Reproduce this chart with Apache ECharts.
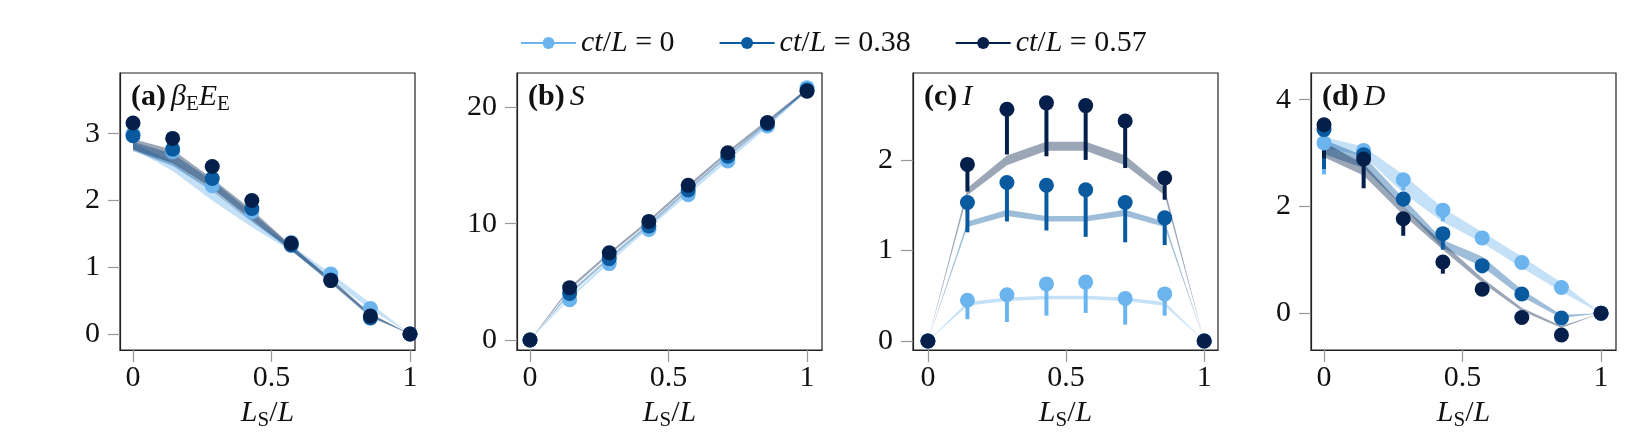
<!DOCTYPE html>
<html>
<head>
<meta charset="utf-8">
<script src="https://cdn.jsdelivr.net/npm/echarts@6/dist/echarts.min.js"></script>
<style>
html, body { margin: 0; padding: 0; background: #fff; }
#chart { width: 1643px; height: 443px; }
</style>
</head>
<body>
<div id="chart"></div>
<script>
// x positions L_S/L
var xs = [0, 0.143, 0.286, 0.429, 0.571, 0.714, 0.857, 1];
var legendNames = ['ct/L = 0', 'ct/L = 0.38', 'ct/L = 0.57'];
var legendValues = ['0', '0.38', '0.57'];
var colors = ['#6cb4ee', '#0a5aa0', '#04204a'];

// (a) beta_E E_E
var aPts0 = [3.0, 2.73, 2.22, 1.83, 1.37, 0.90, 0.38, 0];
var aPts1 = [2.97, 2.77, 2.33, 1.88, 1.33, 0.81, 0.24, 0];
var aPts2 = [3.16, 2.93, 2.51, 2.0, 1.36, 0.80, 0.27, 0];
var aLo0 = [2.78, 2.44, 2.0, 1.6, 1.24, 0.81, 0.37, 0];
var aHi0 = [2.86, 2.58, 2.14, 1.7, 1.33, 0.91, 0.46, 0];
var aLo1 = [2.74, 2.52, 2.14, 1.68, 1.25, 0.76, 0.25, 0];
var aHi1 = [2.88, 2.7, 2.3, 1.82, 1.32, 0.82, 0.3, 0];
var aLo2 = [2.76, 2.56, 2.18, 1.71, 1.26, 0.77, 0.26, 0];
var aHi2 = [2.92, 2.76, 2.33, 1.86, 1.33, 0.83, 0.31, 0];

// (b) S
var bPts0 = [0, 3.46, 6.57, 9.5, 12.5, 15.4, 18.4, 21.7];
var bPts1 = [0, 4.0, 7.0, 9.8, 12.9, 15.8, 18.6, 21.5];
var bPts2 = [0, 4.5, 7.5, 10.2, 13.3, 16.1, 18.7, 21.4];
var bLo0 = [0, 3.5, 6.6, 9.6, 12.5, 15.4, 18.3, 21.4];
var bHi0 = [0, 3.75, 6.85, 9.85, 12.75, 15.65, 18.55, 21.65];
var bLo1 = [0, 3.9, 6.9, 9.8, 12.8, 15.7, 18.5, 21.4];
var bHi1 = [0, 4.15, 7.15, 10.05, 13.05, 15.95, 18.75, 21.65];
var bLo2 = [0, 4.3, 7.3, 10.1, 13.1, 16.0, 18.7, 21.4];
var bHi2 = [0, 4.55, 7.55, 10.35, 13.35, 16.25, 18.95, 21.65];

// (c) I
var cPts0 = [0, 0.45, 0.51, 0.63, 0.65, 0.47, 0.52, 0];
var cErr0 = [0, 0.24, 0.21, 0.28, 0.31, 0.18, 0.28, 0];
var cPts1 = [0, 1.53, 1.75, 1.72, 1.67, 1.53, 1.36, 0];
var cErr1 = [0, 1.2, 1.32, 1.22, 1.15, 1.09, 1.06, 0];
var cPts2 = [0, 1.95, 2.56, 2.63, 2.6, 2.43, 1.8, 0];
var cErr2 = [0, 1.65, 2.06, 2.04, 2.0, 1.91, 1.56, 0];
var cLo0 = [0, 0.39, 0.44, 0.46, 0.46, 0.44, 0.39, 0];
var cHi0 = [0, 0.43, 0.48, 0.5, 0.5, 0.48, 0.43, 0];
var cLo1 = [0, 1.26, 1.38, 1.32, 1.32, 1.38, 1.26, 0];
var cHi1 = [0, 1.32, 1.45, 1.38, 1.38, 1.45, 1.32, 0];
var cLo2 = [0, 1.61, 1.94, 2.1, 2.1, 1.94, 1.61, 0];
var cHi2 = [0, 1.69, 2.05, 2.2, 2.2, 2.05, 1.69, 0];

// (d) D
var dPts0 = [3.19, 3.05, 2.5, 1.93, 1.41, 0.95, 0.48, 0];
var dErr0 = [2.6, 3.0, 2.3, 1.72, 1.41, 0.95, 0.48, 0];
var dPts1 = [3.44, 2.97, 2.14, 1.49, 0.89, 0.36, -0.09, 0];
var dErr1 = [2.7, 2.9, 2.0, 1.19, 0.75, 0.3, -0.09, 0];
var dPts2 = [3.53, 2.89, 1.77, 0.96, 0.45, -0.08, -0.41, 0];
var dErr2 = [2.9, 2.34, 1.45, 0.74, 0.4, -0.08, -0.41, 0];
var dLo0 = [3.1, 2.95, 2.25, 1.71, 1.32, 0.85, 0.4, 0];
var dHi0 = [3.3, 3.12, 2.6, 1.97, 1.52, 1.06, 0.57, 0];
var dLo1 = [2.98, 2.72, 1.99, 1.22, 0.87, 0.31, -0.09, 0];
var dHi1 = [3.25, 2.95, 2.16, 1.37, 1.06, 0.44, -0.03, 0];
var dLo2 = [2.92, 2.58, 1.84, 1.19, 0.57, 0.04, -0.28, 0];
var dHi2 = [3.2, 2.8, 2.0, 1.32, 0.66, 0.1, -0.24, 0];

var xTicks = [0, 0.5, 1];
var yTicks = [[0, 1, 2, 3], [0, 10, 20], [0, 1, 2], [0, 2, 4]];
var yRanges = [[-0.24, 3.91], [-0.86, 22.96], [-0.1, 2.96], [-0.69, 4.5]];
var xRanges = [[-0.047, 1.018], [-0.047, 1.054], [-0.054, 1.05], [-0.047, 1.054]];

var panels = [
  { title: '{b|(a)} {i|β}{s|E}{i|E}{s|E}', pts: [aPts0, aPts1, aPts2], err: null, lo: [aLo0, aLo1, aLo2], hi: [aHi0, aHi1, aHi2] },
  { title: '{b|(b)} {i|S}', pts: [bPts0, bPts1, bPts2], err: null, lo: [bLo0, bLo1, bLo2], hi: [bHi0, bHi1, bHi2] },
  { title: '{b|(c)} {i|I}', pts: [cPts0, cPts1, cPts2], err: [cErr0, cErr1, cErr2], lo: [cLo0, cLo1, cLo2], hi: [cHi0, cHi1, cHi2] },
  { title: '{b|(d)} {i|D}', pts: [dPts0, dPts1, dPts2], err: [dErr0, dErr1, dErr2], lo: [dLo0, dLo1, dLo2], hi: [dHi0, dHi1, dHi2] }
];

var F = '"Liberation Serif", "DejaVu Serif", serif';
var ink = '#111';
var FS = 30;
var rich = {
  b: { fontFamily: F, fontSize: FS, fontWeight: 'bold', color: ink, lineHeight: 36 },
  i: { fontFamily: F, fontSize: FS, fontStyle: 'italic', fontWeight: 'normal', color: ink, lineHeight: 36 },
  r: { fontFamily: F, fontSize: FS, fontWeight: 'normal', color: ink, lineHeight: 36 },
  s: { fontFamily: F, fontSize: 21, fontWeight: 'normal', color: ink, lineHeight: 21, verticalAlign: 'bottom' }
};

var gridLefts = [120, 517, 913, 1311];
var gridWidths = [295, 305, 305, 305];

var grids = [], xAxes = [], yAxes = [], titles = [], series = [];

panels.forEach(function(p, k) {
  grids.push({ left: gridLefts[k], top: 73, width: gridWidths[k], height: 277,
    show: true, borderColor: '#222', borderWidth: 1.2, backgroundColor: 'transparent' });
  xAxes.push({
    type: 'value', gridIndex: k, min: xRanges[k][0], max: xRanges[k][1],
    name: '{i|L}{s|S}{r|/}{i|L}', nameLocation: 'middle', nameGap: 40,
    nameTextStyle: { rich: rich },
    axisLine: { show: true, onZero: false, lineStyle: { color: '#222', width: 1.2 } },
    axisTick: { show: true, length: 12, lineStyle: { color: '#999', width: 1.2 }, customValues: xTicks },
    axisLabel: { margin: 13, fontFamily: F, fontSize: FS, color: ink, customValues: xTicks },
    splitLine: { show: false }
  });
  yAxes.push({
    type: 'value', gridIndex: k, min: yRanges[k][0], max: yRanges[k][1],
    axisLine: { show: true, onZero: false, lineStyle: { color: '#222', width: 1.2 } },
    axisTick: { show: true, length: 12, lineStyle: { color: '#999', width: 1.2 }, customValues: yTicks[k] },
    axisLabel: { margin: 20, fontFamily: F, fontSize: FS, color: ink, customValues: yTicks[k] },
    splitLine: { show: false }
  });
  titles.push({ left: gridLefts[k] + 6, top: 74, text: p.title, textStyle: { rich: rich } });

  // theory bands: one polygon between lower and upper edge
  for (var c = 0; c < 3; c++) {
    (function(c) {
      var lo = p.lo[c], hi = p.hi[c];
      series.push({
        type: 'custom', xAxisIndex: k, yAxisIndex: k, silent: true,
        data: xs.map(function(x, i) { return [x, lo[i], hi[i]]; }),
        encode: { x: 0, y: [1, 2] },
        renderItem: function(params, api) {
          if (params.dataIndex !== 0) return null;
          var top = [], bot = [];
          for (var i = 0; i < xs.length; i++) {
            top.push(api.coord([xs[i], hi[i]]));
            bot.unshift(api.coord([xs[i], lo[i]]));
          }
          return { type: 'polygon', shape: { points: top.concat(bot) },
            style: { fill: colors[c], opacity: 0.4 } };
        }
      });
    })(c);
  }

  // error bars and markers
  for (var c2 = 0; c2 < 3; c2++) {
    (function(c) {
      var pts = p.pts[c];
      if (p.err) {
        var err = p.err[c];
        series.push({
          type: 'custom', xAxisIndex: k, yAxisIndex: k, silent: true,
          data: xs.map(function(x, i) { return [x, pts[i], err[i]]; }),
          encode: { x: 0, y: [1, 2] },
          renderItem: function(params, api) {
            var a = api.coord([api.value(0), api.value(1)]);
            var b = api.coord([api.value(0), api.value(2)]);
            return { type: 'line', shape: { x1: a[0], y1: a[1], x2: b[0], y2: b[1] },
              style: { stroke: colors[c], lineWidth: 4 } };
          }
        });
      }
      series.push({
        type: 'scatter', xAxisIndex: k, yAxisIndex: k, silent: true,
        data: xs.map(function(x, i) { return [x, pts[i]]; }),
        symbol: 'circle', symbolSize: 15,
        itemStyle: { color: colors[c], opacity: 1 }
      });
    })(c2);
  }
});

// legend-only series
legendNames.forEach(function(n, c) {
  series.push({
    type: 'line', name: n, xAxisIndex: 0, yAxisIndex: 0, data: [],
    symbol: 'circle', symbolSize: 12,
    lineStyle: { color: colors[c], width: 2.5 }, itemStyle: { color: colors[c] }
  });
});

var chart = echarts.init(document.getElementById('chart'), null, { renderer: 'canvas' });
chart.setOption({
  animation: false,
  backgroundColor: '#fff',
  title: titles,
  legend: {
    data: legendNames, left: 515, top: 23, itemGap: 44, itemWidth: 55, itemHeight: 15,
    selectedMode: false,
    formatter: function(name) {
      var v = legendValues[legendNames.indexOf(name)];
      return '{i|ct}{r|/}{i|L}{r| = ' + v + '}';
    },
    textStyle: { rich: rich }
  },
  grid: grids,
  xAxis: xAxes,
  yAxis: yAxes,
  series: series
});
window.addEventListener('resize', function() { chart.resize(); });
</script>
</body>
</html>
